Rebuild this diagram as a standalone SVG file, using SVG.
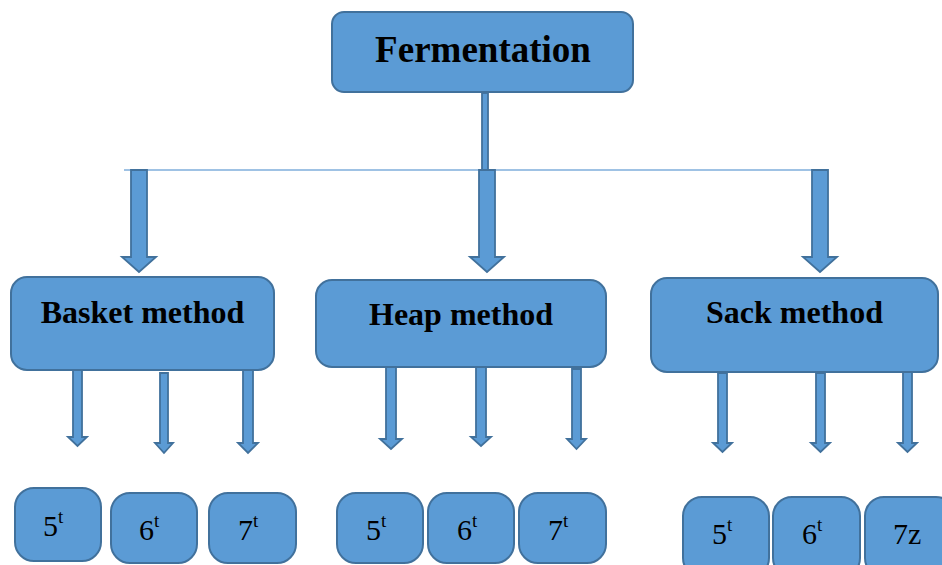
<svg xmlns="http://www.w3.org/2000/svg" width="942" height="565" viewBox="0 0 942 565">
<style>
.box{fill:#5B9BD5;stroke:#41719C;stroke-width:2}
.arr{fill:#5B9BD5;stroke:#41719C;stroke-width:1.8;stroke-linejoin:miter}
.t{font-family:"Liberation Serif","Times New Roman",serif;fill:#000}
.b{font-weight:bold}
.n{font-size:30px}
.s{font-size:19px}
</style>
<rect width="942" height="565" fill="#fff"/>
<g id="connectors">
<line x1="124" y1="170" x2="816" y2="170" stroke="#7FAEDB" stroke-width="1.6"/>
<rect class="arr" x="482" y="93" width="6" height="77"/>
<path class="arr" d="M131,170 H147 V257 H156 L139,272 L122,257 H131 Z"/>
<path class="arr" d="M479,170 H495 V257 H504 L487,272 L470,257 H479 Z"/>
<path class="arr" d="M812,170 H828 V257 H837 L820,272 L803,257 H812 Z"/>
<path class="arr" d="M73,370 H82 V437 H87 L77.5,446 L68,437 H73 Z"/>
<path class="arr" d="M160,373 H168 V443 H173 L164,453 L155,443 H160 Z"/>
<path class="arr" d="M243,370 H253 V443 H258 L248,453 L238,443 H243 Z"/>
<path class="arr" d="M386,367 H396 V439 H402 L391,449 L380,439 H386 Z"/>
<path class="arr" d="M476,367 H486 V437 H491 L481,446 L471,437 H476 Z"/>
<path class="arr" d="M572,369 H581 V439 H586 L576.5,449 L567,439 H572 Z"/>
<path class="arr" d="M718,373 H727 V443 H732 L722.5,452 L713,443 H718 Z"/>
<path class="arr" d="M816,373 H825 V443 H830 L820.5,452 L811,443 H816 Z"/>
<path class="arr" d="M903,369 H912 V443 H917 L907.5,452 L898,443 H903 Z"/>
</g>
<g id="fermentation">
<rect class="box" x="332" y="12" width="301" height="80" rx="12"/>
<text class="t b" x="483" y="62" font-size="37" text-anchor="middle">Fermentation</text>
</g>
<g id="basket">
<rect class="box" x="11" y="277" width="263" height="93" rx="16"/>
<text class="t b" x="142.5" y="323" font-size="32" text-anchor="middle">Basket method</text>
</g>
<g id="heap">
<rect class="box" x="316" y="280" width="290" height="87" rx="16"/>
<text class="t b" x="461" y="325" font-size="32" text-anchor="middle">Heap method</text>
</g>
<g id="sack">
<rect class="box" x="651" y="278" width="287" height="94" rx="16"/>
<text class="t b" x="794.5" y="323" font-size="32" text-anchor="middle">Sack method</text>
</g>
<g id="basket-5t">
<rect class="box" x="15" y="488" width="86" height="73" rx="19"/>
<text class="t" x="43" y="536"><tspan class="n">5</tspan><tspan class="s" dy="-13">t</tspan></text>
</g>
<g id="basket-6t">
<rect class="box" x="111" y="493" width="86" height="70" rx="19"/>
<text class="t" x="139" y="540"><tspan class="n">6</tspan><tspan class="s" dy="-13">t</tspan></text>
</g>
<g id="basket-7t">
<rect class="box" x="209" y="493" width="87" height="70" rx="19"/>
<text class="t" x="238" y="540"><tspan class="n">7</tspan><tspan class="s" dy="-13">t</tspan></text>
</g>
<g id="heap-5t">
<rect class="box" x="337" y="493" width="86" height="70" rx="19"/>
<text class="t" x="366" y="540"><tspan class="n">5</tspan><tspan class="s" dy="-13">t</tspan></text>
</g>
<g id="heap-6t">
<rect class="box" x="428" y="493" width="86" height="70" rx="19"/>
<text class="t" x="457" y="540"><tspan class="n">6</tspan><tspan class="s" dy="-13">t</tspan></text>
</g>
<g id="heap-7t">
<rect class="box" x="519" y="493" width="87" height="70" rx="19"/>
<text class="t" x="548" y="540"><tspan class="n">7</tspan><tspan class="s" dy="-13">t</tspan></text>
</g>
<g id="sack-5t">
<rect class="box" x="683" y="497" width="86" height="80" rx="19"/>
<text class="t" x="712" y="544"><tspan class="n">5</tspan><tspan class="s" dy="-13">t</tspan></text>
</g>
<g id="sack-6t">
<rect class="box" x="773" y="497" width="87" height="80" rx="19"/>
<text class="t" x="802" y="544"><tspan class="n">6</tspan><tspan class="s" dy="-13">t</tspan></text>
</g>
<g id="sack-7z">
<rect class="box" x="865" y="497" width="90" height="80" rx="19"/>
<text class="t n" x="893" y="544">7z</text>
</g>
</svg>
